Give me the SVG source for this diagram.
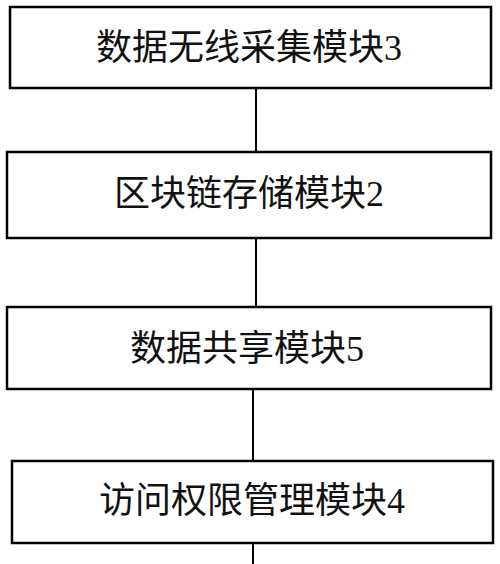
<svg xmlns="http://www.w3.org/2000/svg" width="500" height="564" viewBox="0 0 500 564">
<style>
.box{fill:#fff;stroke:#000;stroke-width:2.5}
.lbl{font-family:"Liberation Serif","Noto Sans CJK SC",serif;font-size:36px;fill:#111;text-anchor:middle;dominant-baseline:central}
.con{stroke:#000;stroke-width:2;fill:none}
</style>
<rect width="500" height="564" fill="#fff"/>
<g id="connectors">
<line class="con" x1="256" y1="88" x2="256" y2="152"/>
<line class="con" x1="256" y1="238" x2="256" y2="307"/>
<line class="con" x1="253" y1="389" x2="253" y2="461"/>
<line class="con" x1="253" y1="543" x2="253" y2="564"/>
</g>
<g id="node3">
<rect class="box" x="10" y="7" width="481" height="81"/>
<text class="lbl" x="249" y="48">数据无线采集模块3</text>
</g>
<g id="node2">
<rect class="box" x="7" y="152" width="484" height="86"/>
<text class="lbl" x="249" y="194">区块链存储模块2</text>
</g>
<g id="node5">
<rect class="box" x="7" y="307" width="484" height="82"/>
<text class="lbl" x="247" y="349">数据共享模块5</text>
</g>
<g id="node4">
<rect class="box" x="12" y="461" width="481" height="82"/>
<text class="lbl" x="252" y="501">访问权限管理模块4</text>
</g>
</svg>
